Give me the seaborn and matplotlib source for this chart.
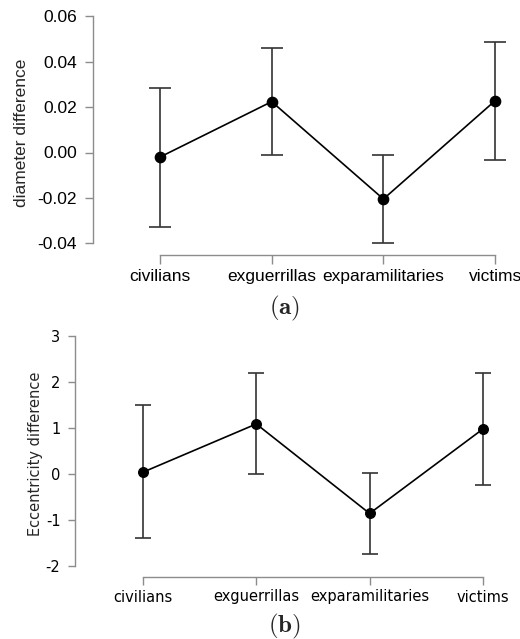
import matplotlib
matplotlib.use("Agg")
import matplotlib.pyplot as plt
import seaborn as sns
import numpy as np

# ---- data ----
groups = ["civilians", "exguerrillas", "exparamilitaries", "victims"]

diam_mean = [-0.002, 0.0224, -0.0205, 0.0228]
diam_low = [-0.0327, -0.0011, -0.0397, -0.0032]
diam_high = [0.0283, 0.0459, -0.0011, 0.0485]
diam_ticks = [-0.04, -0.02, 0.00, 0.02, 0.04, 0.06]
diam_ticklabels = ["-0.04", "-0.02", "0.00", "0.02", "0.04", "0.06"]

ecc_mean = [0.04, 1.09, -0.86, 0.98]
ecc_low = [-1.40, 0.00, -1.75, -0.24]
ecc_high = [1.50, 2.19, 0.03, 2.19]
ecc_ticks = [-2, -1, 0, 1, 2, 3]
ecc_ticklabels = ["-2", "-1", "0", "1", "2", "3"]

sns.set_style("ticks")
plt.rcParams["mathtext.fontset"] = "cm"
plt.rcParams["axes.unicode_minus"] = False

W, H = 520, 639
fig = plt.figure(figsize=(W / 100, H / 100), dpi=100)


def rect(left, right, top, bottom):
    return [left / W, 1 - bottom / H, (right - left) / W, (bottom - top) / H]


def panel(ax, means, lows, highs, ticks, ticklabels, ylabel, ylim, xlim,
          family, fsize, capsize, msize, ylen, ypad, xlen, xpad, lpad):
    sns.pointplot(x=groups, y=means, color="black", errorbar=None,
                  markers="o", markersize=msize, linewidth=1.2, ax=ax,
                  zorder=3)
    pos = np.arange(len(groups))
    m = np.array(means)
    yerr = [m - np.array(lows), np.array(highs) - m]
    ax.errorbar(pos, m, yerr=yerr, fmt="none", ecolor="#333333",
                elinewidth=1.2, capsize=capsize, capthick=1.2, zorder=2)
    ax.set_ylim(*ylim)
    ax.set_xlim(*xlim)
    ax.set_yticks(ticks)
    ax.set_yticklabels(ticklabels, family=family, fontsize=fsize)
    ax.set_xticks(pos)
    ax.set_xticklabels(groups, family=family, fontsize=fsize)
    ax.set_ylabel(ylabel, family=family, fontsize=fsize, labelpad=lpad)
    ax.set_xlabel("")
    sns.despine(ax=ax, trim=True)
    for s in ["left", "bottom"]:
        ax.spines[s].set_color("#8c8c8c")
        ax.spines[s].set_linewidth(1.0)
    ax.tick_params(axis="both", color="#8c8c8c", width=1.0,
                   labelcolor="black")
    ax.tick_params(axis="y", length=ylen, pad=ypad)
    ax.tick_params(axis="x", length=xlen, pad=xpad)
    ax.set_facecolor("white")


# panel (a): pixel geometry from reference
ax1 = fig.add_axes(rect(93, 515, 10, 255))
panel(ax1, diam_mean, diam_low, diam_high, diam_ticks, diam_ticklabels,
      "diameter difference", ((152.5 - 255) / 2270, (152.5 - 10) / 2270),
      (-0.6, (515 - 160) / 111.7), "Liberation Sans", 12.5, 8, 7.5,
      5.8, 5.8, 6.5, 3.5, 6)

ax2 = fig.add_axes(rect(75, 515, 330, 577))
panel(ax2, ecc_mean, ecc_low, ecc_high, ecc_ticks, ecc_ticklabels,
      "Eccentricity difference", ((474 - 577) / 45.9, (474 - 330) / 45.9),
      (-0.6, (515 - 143) / 113.3), "DejaVu Sans", 10.5, 5.8, 7,
      5.0, 5.5, 6.0, 3.0, 2)

fig.text(285 / W, 1 - 308 / H, r"$\mathbf{(a)}$", ha="center", va="center",
         fontsize=18)
fig.text(284 / W, 1 - 626 / H, r"$\mathbf{(b)}$", ha="center", va="center",
         fontsize=18)

fig.savefig("out.png", dpi=100, facecolor="white")
